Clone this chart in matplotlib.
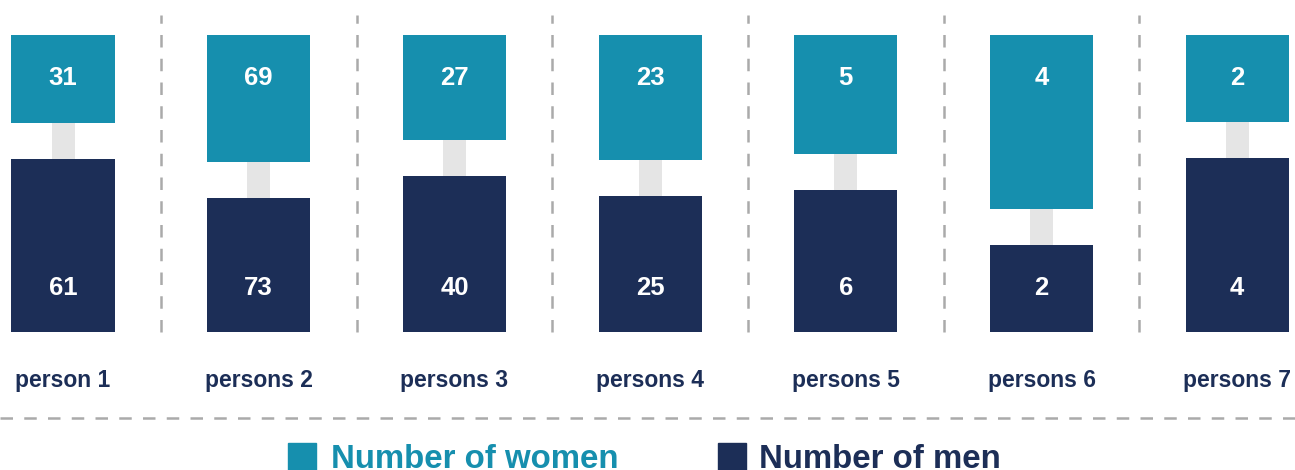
import numpy as np
import matplotlib.pyplot as plt
from matplotlib.patches import Rectangle

plt.rcParams['font.family'] = ['Liberation Sans', 'DejaVu Sans']

# data
groups = ['person 1', 'persons 2', 'persons 3', 'persons 4', 'persons 5', 'persons 6', 'persons 7']
women = [31, 69, 27, 23, 5, 4, 2]
men = [61, 73, 40, 25, 6, 2, 4]

teal = '#168FAE'
navy = '#1C2E57'
light = '#E5E5E5'
dash = '#AAAAAA'

W, H = 1295, 470
fig = plt.figure(figsize=(W / 100, H / 100), dpi=100)

# bar area: pixel rows 35..332
ax = fig.add_axes([0, 1 - 332 / H, 1, 297 / H])
step = 195.7
x0 = 63 / step
ax.set_xlim(-x0, (W - 63) / step)
ax.set_ylim(0, 1)
ax.axis('off')

x = np.arange(len(groups))
w = np.array(women, float)
m = np.array(men, float)
gap = 36 / 297
men_h = (1 - gap) * m / (w + m)
women_h = (1 - gap) * w / (w + m)

ax.bar(x, 1, width=23 / step, bottom=0, color=light, zorder=1)
ax.bar(x, men_h, width=103 / step, bottom=0, color=navy, zorder=2)
ax.bar(x, women_h, width=103 / step, bottom=1 - women_h, color=teal, zorder=2)

for i in x:
    ax.text(i, 1 - 43 / 297, str(women[i]), ha='center', va='center',
            color='white', fontsize=18.5, fontweight='bold', zorder=3)
    ax.text(i, 44 / 297, str(men[i]), ha='center', va='center',
            color='white', fontsize=18.5, fontweight='bold', zorder=3)
    ax.text(i, -(381 - 332) / 297, groups[i], ha='center', va='center',
            color=navy, fontsize=16.5, fontweight='bold',
            transform=ax.get_xaxis_transform())

# separators
for i in x[:-1]:
    ax.plot([i + 0.5, i + 0.5], [0, 1 + 20 / 297], color=dash, lw=1.8,
            dashes=(5, 4.5), clip_on=False, zorder=0)
ax.plot([0, 1], [-(418 - 332) / 297] * 2, color=dash, lw=1.8, dashes=(5, 4.5),
        transform=ax.transAxes, clip_on=False)

# legend
fig.patches.append(Rectangle((288 / W, 0), 28 / W, (H - 443) / H, color=teal,
                             transform=fig.transFigure))
fig.text(331 / W, 1 - 460 / H, 'Number of women', color=teal, fontsize=23.8,
         fontweight='bold', va='center', ha='left')
fig.patches.append(Rectangle((718 / W, 0), 28 / W, (H - 443) / H, color=navy,
                             transform=fig.transFigure))
fig.text(759 / W, 1 - 460 / H, 'Number of men', color=navy, fontsize=23.8,
         fontweight='bold', va='center', ha='left')

fig.savefig('out.png', dpi=100)
